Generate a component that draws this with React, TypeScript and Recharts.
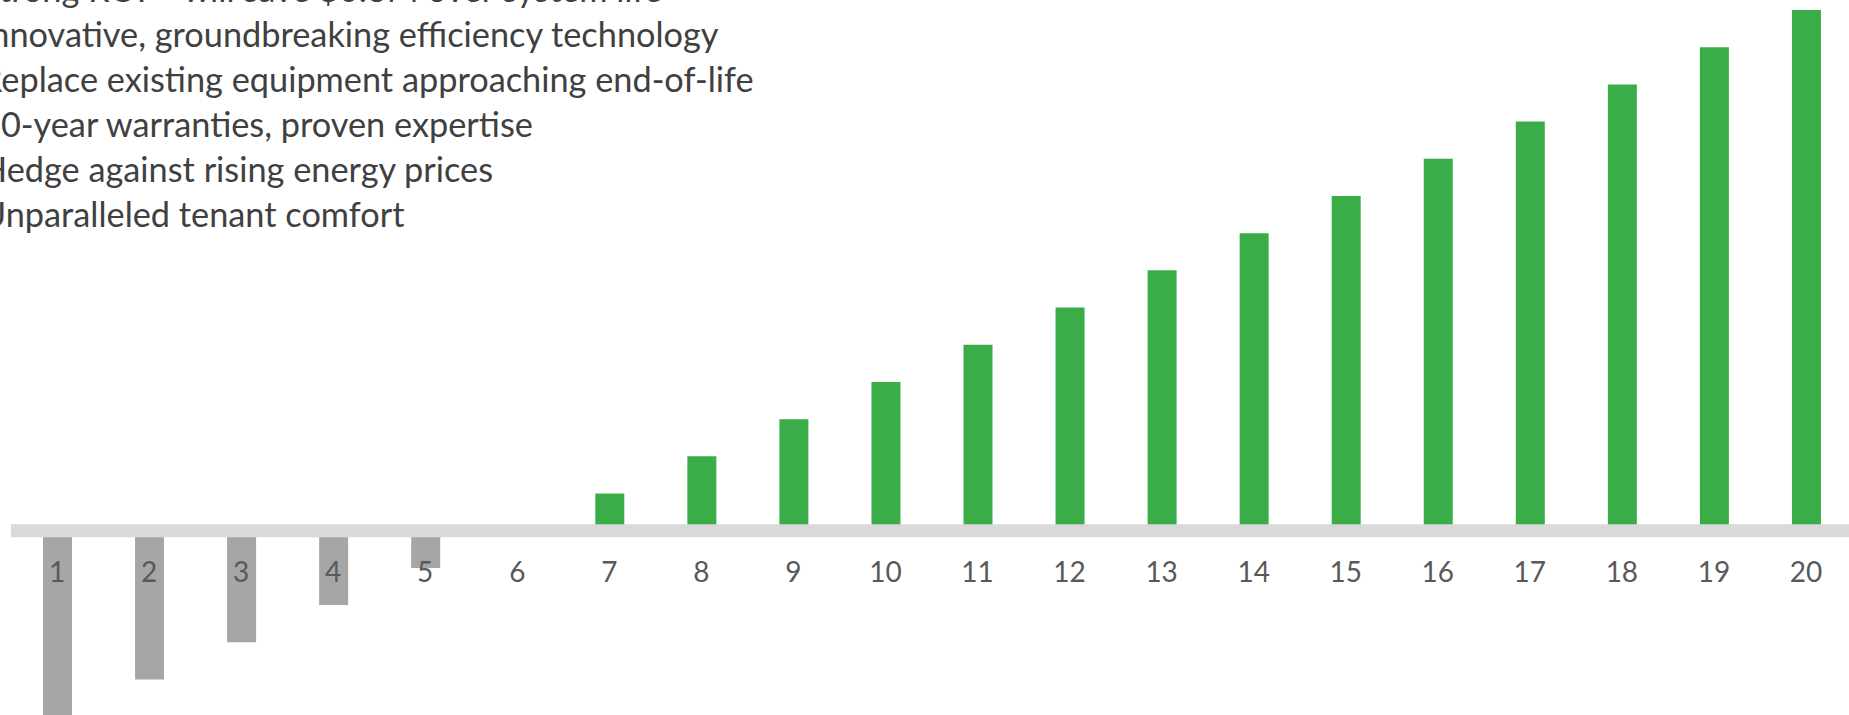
import React from 'react';
import { BarChart, Bar, XAxis, YAxis, Cell, ReferenceLine } from 'recharts';

// payback years and cumulative net position for each year
const years = ['1', '2', '3', '4', '5', '6', '7', '8', '9', '10', '11', '12', '13', '14', '15', '16', '17', '18', '19', '20'];
const netValue = [-5, -4, -3, -2, -1, 0, 1, 2, 3, 4, 5, 6, 7, 8, 9, 10, 11, 12, 13, 14];

const bulletLines = [
  'Strong ROI – will save $0.6M over system life',
  'Innovative, groundbreaking efficiency technology',
  'Replace existing equipment approaching end-of-life',
  '10-year warranties, proven expertise',
  'Hedge against rising energy prices',
  'Unparalleled tenant comfort',
];

const GREEN = '#3AAD48';
const GREY = '#A6A6A6';
const FONT = 'Lato, "Open Sans", sans-serif';

const chartData = years.map((y, i) => ({ year: y, value: netValue[i] }));

const YearTick = (props: any) => {
  const { x, y, payload } = props;
  return (
    <text x={x} y={y} dy={-142.7} textAnchor="middle" fill="#595959" fontSize={28} fontFamily={FONT}>
      {payload.value}
    </text>
  );
};

export default function App() {
  return (
    <div
      style={{
        position: 'absolute',
        left: 0,
        top: 0,
        width: 1849,
        height: 715,
        overflow: 'hidden',
        background: '#fff',
      }}
    >
      <BarChart
        width={1860}
        height={750}
        data={chartData}
        margin={{ top: 10, right: 8, bottom: 3.3, left: 11 }}
      >
        <XAxis dataKey="year" axisLine={false} tickLine={false} height={30} interval={0} tick={<YearTick />} />
        <YAxis hide domain={[-5, 14]} />
        <Bar dataKey="value" barSize={29} isAnimationActive={false}>
          {chartData.map((d) => (
            <Cell key={d.year} fill={d.value < 0 ? GREY : GREEN} />
          ))}
        </Bar>
        <ReferenceLine y={0} stroke="#D9D9D9" strokeWidth={13} />
      </BarChart>

      <svg width={1849} height={715} style={{ position: 'absolute', left: 0, top: 0, pointerEvents: 'none' }}>
        {bulletLines.map((line, i) => (
          <text key={line} x={-19} y={2 + i * 45} fill="#404040" fontSize={34.3} fontFamily={FONT}>
            {line}
          </text>
        ))}
      </svg>
    </div>
  );
}
